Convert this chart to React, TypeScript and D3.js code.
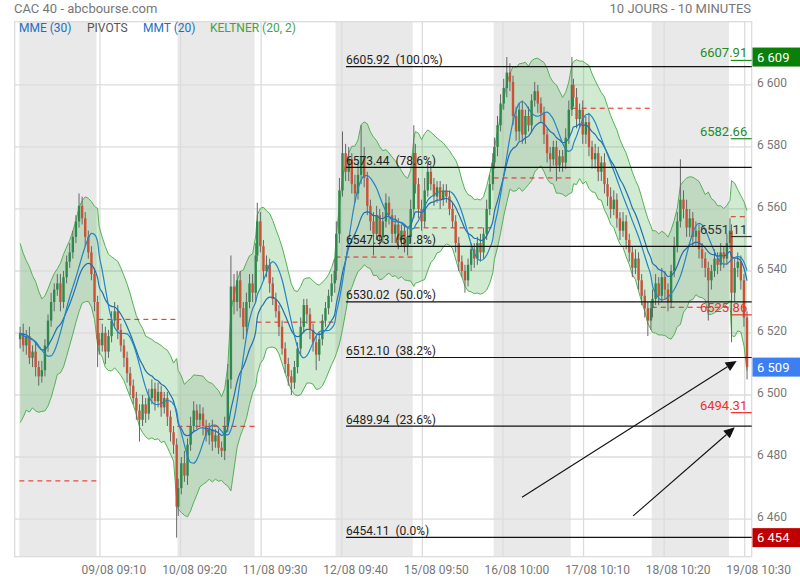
import React from "react";
import * as d3 from "d3";

// ---------- DATA ----------
const dayLabels = ["08/08", "09/08", "10/08", "11/08", "12/08", "15/08", "16/08", "17/08", "18/08", "19/08"];
const tickTimes = ["09:00", "09:10", "09:20", "09:30", "09:40", "09:50", "10:00", "10:10", "10:20", "10:30"];
const shadedDays = [0, 2, 4, 6, 8];

const firstOpen = 6518;
// closes of 20-minute bars, one list per day
const closes: number[][] = [
  [6520, 6516, 6519, 6512, 6514, 6509, 6506, 6508, 6516, 6524, 6530, 6534, 6536, 6530, 6538, 6543, 6546, 6551, 6556, 6561, 6557, 6551, 6546, 6539, 6530, 6518],
  [6516, 6520, 6514, 6519, 6524, 6527, 6521, 6516, 6512, 6507, 6503, 6499, 6495, 6492, 6497, 6494, 6499, 6502, 6498, 6501, 6496, 6499, 6493, 6488, 6484, 6464],
  [6470, 6478, 6474, 6484, 6490, 6495, 6492, 6494, 6490, 6487, 6489, 6485, 6487, 6483, 6482, 6490, 6505, 6535, 6530, 6537, 6528, 6522, 6530, 6536, 6533, 6545],
  [6556, 6548, 6540, 6542, 6536, 6531, 6527, 6522, 6515, 6510, 6506, 6504, 6509, 6515, 6522, 6529, 6526, 6521, 6517, 6513, 6518, 6524, 6528, 6532, 6536, 6540],
  [6552, 6566, 6578, 6572, 6576, 6568, 6565, 6571, 6577, 6570, 6561, 6556, 6552, 6558, 6551, 6556, 6562, 6558, 6552, 6555, 6550, 6553, 6548, 6551, 6560, 6578],
  [6568, 6560, 6556, 6566, 6572, 6568, 6564, 6567, 6563, 6566, 6564, 6560, 6556, 6549, 6543, 6540, 6537, 6542, 6547, 6544, 6549, 6546, 6552, 6560, 6568, 6575],
  [6580, 6587, 6594, 6599, 6604, 6601, 6590, 6585, 6592, 6584, 6590, 6587, 6595, 6598, 6594, 6591, 6584, 6578, 6576, 6580, 6574, 6577, 6575, 6583, 6592, 6600],
  [6596, 6589, 6592, 6584, 6588, 6580, 6576, 6578, 6572, 6575, 6568, 6564, 6560, 6563, 6557, 6553, 6556, 6550, 6546, 6541, 6544, 6537, 6532, 6528, 6524, 6528],
  [6531, 6536, 6532, 6538, 6534, 6530, 6540, 6548, 6556, 6563, 6560, 6554, 6557, 6551, 6553, 6547, 6544, 6541, 6537, 6540, 6544, 6542, 6546, 6544, 6549, 6553],
  [6533, 6541, 6543, 6537, 6525, 6509],
];
// upper / lower wick lengths (points above max(open,close), below min(open,close))
const wickUp: number[][] = [
  [2, 3, 2, 3, 2, 3, 2, 3, 2, 2, 3, 2, 3, 3, 2, 2, 3, 2, 2, 4, 3, 2, 2, 2, 2, 2],
  [2, 3, 2, 2, 3, 3, 2, 2, 2, 2, 2, 2, 2, 2, 3, 2, 3, 3, 2, 3, 2, 2, 2, 2, 2, 2],
  [3, 2, 4, 2, 3, 3, 2, 3, 2, 2, 2, 3, 2, 2, 2, 3, 5, 10, 4, 3, 3, 2, 3, 3, 3, 4],
  [6, 3, 2, 3, 2, 2, 2, 2, 2, 2, 2, 2, 2, 2, 3, 2, 2, 2, 2, 2, 2, 2, 2, 2, 3, 4],
  [4, 4, 7, 3, 4, 2, 3, 4, 10, 3, 2, 2, 3, 3, 2, 3, 3, 2, 2, 3, 2, 2, 2, 3, 3, 9],
  [3, 2, 3, 4, 3, 2, 2, 2, 2, 2, 2, 2, 2, 2, 2, 2, 2, 2, 2, 2, 2, 3, 2, 3, 3, 3],
  [3, 3, 3, 3, 5, 3, 2, 3, 2, 3, 2, 3, 2, 3, 2, 2, 2, 2, 2, 2, 2, 2, 2, 3, 3, 9],
  [2, 3, 2, 3, 2, 3, 2, 3, 2, 2, 3, 2, 3, 3, 2, 2, 3, 2, 2, 2, 3, 2, 2, 2, 2, 2],
  [3, 3, 2, 3, 2, 2, 2, 3, 3, 13, 3, 3, 3, 2, 3, 2, 2, 2, 2, 2, 3, 2, 3, 2, 3, 4],
  [2, 3, 3, 2, 2, 2],
];
const wickDown: number[][] = [
  [3, 2, 3, 2, 3, 3, 3, 2, 2, 2, 2, 3, 2, 3, 2, 2, 2, 2, 2, 2, 2, 3, 2, 2, 3, 9],
  [3, 2, 4, 2, 2, 2, 3, 2, 3, 3, 3, 2, 3, 7, 2, 3, 2, 2, 3, 2, 3, 2, 3, 3, 3, 10],
  [3, 2, 2, 3, 2, 2, 3, 2, 3, 2, 3, 3, 2, 2, 2, 3, 2, 3, 4, 3, 3, 4, 3, 2, 3, 3],
  [2, 2, 3, 2, 3, 2, 2, 3, 2, 3, 3, 4, 2, 2, 2, 2, 3, 3, 3, 5, 2, 2, 2, 2, 2, 3],
  [3, 3, 2, 3, 3, 3, 3, 2, 3, 3, 3, 3, 7, 2, 3, 2, 2, 3, 3, 3, 3, 2, 2, 3, 2, 3],
  [3, 3, 3, 2, 2, 2, 3, 2, 3, 2, 2, 2, 2, 3, 3, 2, 4, 2, 2, 3, 2, 3, 2, 2, 2, 2],
  [2, 3, 2, 2, 3, 3, 3, 3, 3, 3, 3, 2, 2, 2, 3, 3, 3, 3, 4, 2, 5, 2, 3, 2, 2, 2],
  [3, 3, 3, 3, 3, 3, 3, 3, 3, 3, 3, 3, 3, 2, 3, 3, 2, 3, 3, 3, 2, 3, 3, 3, 5, 3],
  [3, 2, 3, 2, 3, 3, 2, 2, 2, 2, 3, 3, 3, 3, 3, 3, 3, 3, 13, 3, 2, 3, 2, 3, 2, 2],
  [16, 3, 3, 3, 3, 4],
];

const pivots = [6472.3, 6524.4, 6489.9, 6523.5, 6544.5, 6553.9, 6570.0, 6592.5, 6528.3, 6557.5];

const fibLevels = [6605.92, 6573.44, 6547.93, 6530.02, 6512.1, 6489.94, 6454.11];
const fibPcts = ["100.0%", "78.6%", "61.8%", "50.0%", "38.2%", "23.6%", "0.0%"];
const fibStartSlot = 210.7;

const srLevels = [6607.91, 6582.66, 6551.11, 6525.86, 6494.31];
const srKinds = ["res", "res", "piv", "sup", "sup"];

const priceTags = [6609, 6509, 6454];
const priceTagKinds = ["high", "last", "low"];

const yTicks = [6460, 6480, 6500, 6520, 6540, 6560, 6580, 6600];

// annotations (slot, price)
const arrowFrom = [[324.3, 6467.0], [396.0, 6461.0]];
const arrowTo = [[462.8, 6511.0], [461.6, 6489.6]];

const SLOTS_PER_DAY = 51;
const KELTNER_N = 10;
const KELTNER_MULT = 1.7;
const KELTNER_SEED_ATR = 17;

// ---------- STYLE ----------
const C = {
  text: "#777",
  grid: "#dcdcdc",
  shade: "#e9e9e9",
  up: "#2e8a4c",
  down: "#cb5139",
  wick: "#666",
  kelFill: "rgba(76,175,80,0.26)",
  kelLine: "#55b055",
  ema: "#1f6fb0",
  tma: "#2683c6",
  pivot: "#e8201c",
  fib: "#111",
  res: "#1e8c1e",
  sup: "#f0302c",
  piv: "#333",
};

const FONT = "Roboto, 'Noto Sans', sans-serif";

export default function App() {
  const W = 800, H = 580;
  const plot = { left: 14.7, right: 751.7, top: 21.7, bottom: 556.7 };
  const x = d3.scaleLinear().domain([-3, 472.5]).range([plot.left, plot.right]);
  const y = d3.scaleLinear().domain([6447.85, 6620.4]).range([plot.bottom, plot.top]);

  type Bar = { slot: number; o: number; h: number; l: number; c: number };
  const bars: Bar[] = [];
  let prev = firstOpen;
  closes.forEach((dc, d) =>
    dc.forEach((c, k) => {
      const o = prev;
      bars.push({
        slot: SLOTS_PER_DAY * d + 2 * k + 0.5,
        o,
        c,
        h: Math.max(o, c) + wickUp[d][k],
        l: Math.min(o, c) - wickDown[d][k],
      });
      prev = c;
    })
  );

  // Keltner
  const a = 2 / (KELTNER_N + 1);
  let mid = bars[0].c;
  let atr = KELTNER_SEED_ATR;
  const kel = bars.map((b, i) => {
    if (i > 0) {
      const pc = bars[i - 1].c;
      const tr = Math.max(b.h - b.l, Math.abs(b.h - pc), Math.abs(b.l - pc));
      mid += a * (b.c - mid);
      atr += a * (tr - atr);
    }
    return { slot: b.slot, up: mid + KELTNER_MULT * atr, lo: mid - KELTNER_MULT * atr };
  });

  // EMA 30 (10-min) ~ EMA 15 on 20-min bars
  const ae = 2 / 16;
  let e = bars[0].c;
  const ema = bars.map((b, i) => {
    if (i > 0) e += ae * (b.c - e);
    return { slot: b.slot, v: e };
  });
  // triangular MA 20 (10-min) ~ 10 on 20-min bars
  const sma = (arr: number[], n: number) =>
    arr.map((_, i) => d3.mean(arr.slice(Math.max(0, i - n + 1), i + 1)) as number);
  const s1 = sma(bars.map((b) => b.c), 5);
  const s2 = sma(s1, 6);
  const tma = bars.map((b, i) => ({ slot: b.slot, v: s2[i] }));

  const area = d3
    .area<{ slot: number; up: number; lo: number }>()
    .x((d) => x(d.slot))
    .y0((d) => y(d.lo))
    .y1((d) => y(d.up));
  const lineUp = d3.line<{ slot: number; up: number }>().x((d) => x(d.slot)).y((d) => y(d.up));
  const lineLo = d3.line<{ slot: number; lo: number }>().x((d) => x(d.slot)).y((d) => y(d.lo));
  const maLine = d3.line<{ slot: number; v: number }>().x((d) => x(d.slot)).y((d) => y(d.v)).curve(d3.curveMonotoneX);

  const fmtLocale = d3.formatLocale({ decimal: ",", thousands: " ", grouping: [3], currency: ["", ""] });
  const fmtInt = fmtLocale.format(",d");

  const bw = 2.4;
  const shadeEnd = 49.8;

  const tagColor: Record<string, string> = { high: "#0a7f0a", last: "#3b7ff2", low: "#c00000" };
  const srColor: Record<string, string> = { res: C.res, sup: C.sup, piv: C.piv };

  const gridDays = d3.range(1, dayLabels.length);

  return (
    <svg width={W} height={H} style={{ position: "fixed", left: 0, top: 0, background: "#fff", fontFamily: FONT }}>
      <defs>
        <clipPath id="plotClip">
          <rect x={plot.left} y={plot.top} width={plot.right - plot.left} height={plot.bottom - plot.top} />
        </clipPath>
      </defs>

      {/* header */}
      <text x={14} y={13} fontSize={13} fill={C.text}>CAC 40 - abcbourse.com</text>
      <text x={751} y={13} fontSize={13} fill={C.text} textAnchor="end">10 JOURS - 10 MINUTES</text>

      {/* shaded days */}
      {shadedDays.map((d) => (
        <rect key={"sh" + d} x={x(d * SLOTS_PER_DAY)} y={plot.top} width={x(d * SLOTS_PER_DAY + shadeEnd) - x(d * SLOTS_PER_DAY)} height={plot.bottom - plot.top} fill={C.shade} />
      ))}

      {/* grid */}
      {yTicks.map((t) => (
        <line key={"gy" + t} x1={plot.left} x2={plot.right} y1={y(t)} y2={y(t)} stroke={C.grid} strokeWidth={1.3} />
      ))}
      {gridDays.map((d) => {
        const gx = x(d * SLOTS_PER_DAY + d);
        return <line key={"gx" + d} x1={gx} x2={gx} y1={plot.top} y2={plot.bottom} stroke={C.grid} strokeWidth={1.3} />;
      })}
      <rect x={plot.left} y={plot.top} width={plot.right - plot.left} height={plot.bottom - plot.top} fill="none" stroke={C.grid} strokeWidth={1.3} />

      <g clipPath="url(#plotClip)">
        {/* keltner */}
        <path d={area(kel) || ""} fill={C.kelFill} />
        <path d={lineUp(kel) || ""} fill="none" stroke={C.kelLine} strokeWidth={1} />
        <path d={lineLo(kel) || ""} fill="none" stroke={C.kelLine} strokeWidth={1} />

        {/* pivots */}
        {pivots.map((p, d) => {
          const s0 = d * SLOTS_PER_DAY;
          const s1e = Math.min(s0 + shadeEnd, d === pivots.length - 1 ? bars[bars.length - 1].slot + 0.8 : Infinity);
          return <line key={"pv" + d} x1={x(s0)} x2={x(s1e)} y1={y(p)} y2={y(p)} stroke={C.pivot} strokeWidth={1} strokeDasharray="5,4" />;
        })}

        {/* candles */}
        {bars.map((b, i) => (
          <g key={"b" + i}>
            <line x1={x(b.slot)} x2={x(b.slot)} y1={y(b.h)} y2={y(b.l)} stroke={C.wick} strokeWidth={1} />
            <rect
              x={x(b.slot) - bw / 2}
              y={y(Math.max(b.o, b.c))}
              width={bw}
              height={Math.max(1, Math.abs(y(b.o) - y(b.c)))}
              fill={b.c >= b.o ? C.up : C.down}
            />
          </g>
        ))}

        {/* moving averages */}
        <path d={maLine(ema) || ""} fill="none" stroke={C.ema} strokeWidth={1.2} />
        <path d={maLine(tma) || ""} fill="none" stroke={C.tma} strokeWidth={1.2} />
      </g>

      {/* fibonacci */}
      {fibLevels.map((v, i) => (
        <g key={"fib" + i}>
          <line x1={x(fibStartSlot)} x2={plot.right} y1={y(v)} y2={y(v)} stroke={C.fib} strokeWidth={1.2} />
          <text x={x(fibStartSlot)} y={y(v) - 2.5} fontSize={12} fill="#222" style={{ whiteSpace: "pre" }}>
            {`${v.toFixed(2)}  (${fibPcts[i]})`}
          </text>
        </g>
      ))}

      {/* support / resistance labels of the day */}
      {srLevels.map((v, i) => (
        <g key={"sr" + i}>
          <line x1={x(9 * SLOTS_PER_DAY)} x2={plot.right} y1={y(v)} y2={y(v)} stroke={srColor[srKinds[i]]} strokeWidth={1.2} />
          <text x={plot.right - 4.5} y={y(v) - 3} fontSize={13} fill={srColor[srKinds[i]]} textAnchor="end">
            {v.toFixed(2)}
          </text>
        </g>
      ))}

      {/* arrows */}
      {arrowFrom.map((f, i) => {
        const x1 = x(f[0]), y1 = y(f[1]);
        const x2 = x(arrowTo[i][0]), y2 = y(arrowTo[i][1]);
        const dx = x2 - x1, dy = y2 - y1;
        const len = Math.hypot(dx, dy);
        const ux = dx / len, uy = dy / len;
        const hl = 11, hw = 5;
        const bx = x2 - ux * hl, by = y2 - uy * hl;
        const pts = `${x2},${y2} ${bx - uy * hw},${by + ux * hw} ${bx + uy * hw},${by - ux * hw}`;
        return (
          <g key={"ar" + i}>
            <line x1={x1} y1={y1} x2={bx} y2={by} stroke="#111" strokeWidth={1.1} />
            <polygon points={pts} fill="#111" />
          </g>
        );
      })}

      {/* y axis labels */}
      {yTicks.map((t) => (
        <text key={"yl" + t} x={757} y={y(t) + 2} fontSize={12} fill={C.text}>
          {fmtInt(t)}
        </text>
      ))}

      {/* price tags */}
      {priceTags.map((v, i) => (
        <g key={"tag" + i}>
          <rect x={752.5} y={y(v) - 9.5} width={48} height={19} fill={tagColor[priceTagKinds[i]]} />
          <text x={757} y={y(v) + 4.5} fontSize={13} fill="#fff">
            {fmtInt(v)}
          </text>
        </g>
      ))}

      {/* x axis labels */}
      {gridDays.map((d) => (
        <text key={"xl" + d} x={x(d * SLOTS_PER_DAY + d) + 14} y={574} fontSize={12} fill={C.text} textAnchor="middle">
          {`${dayLabels[d]} ${tickTimes[d]}`}
        </text>
      ))}

      {/* legend */}
      <text y={32} fontSize={12}>
        <tspan x={19} fill="#1e6fc4">MME (30)</tspan>
        <tspan x={87} fill="#555">PIVOTS</tspan>
        <tspan x={143} fill="#1e6fc4">MMT (20)</tspan>
        <tspan x={210} fill="#45a245">KELTNER (20, 2)</tspan>
      </text>
    </svg>
  );
}
